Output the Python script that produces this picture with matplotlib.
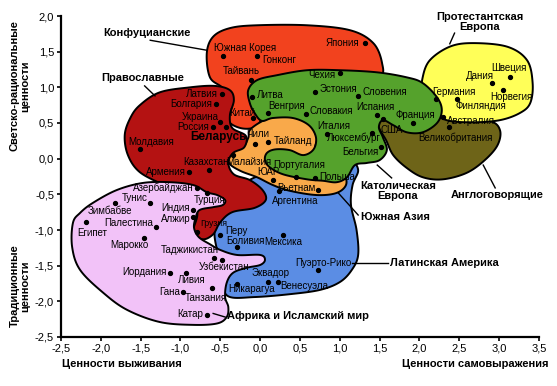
import numpy as np
import matplotlib
matplotlib.use("Agg")
import matplotlib.pyplot as plt

plt.rcParams['font.family'] = ['Liberation Sans', 'DejaVu Sans']

# Countries (x: survival -> self-expression, y: traditional -> secular-rational)
countries = ["Япония", "Южная Корея", "Гонконг", "Тайвань", "Китай",
             "Латвия", "Болгария", "Украина", "Россия", "Беларусь", "Молдавия",
             "Казахстан", "Армения", "Грузия",
             "Литва", "Венгрия", "Чехия", "Эстония", "Словения", "Словакия",
             "Испания", "Франция", "Италия", "Люксембург", "Бельгия",
             "США", "Австралия", "Великобритания",
             "Швеция", "Дания", "Норвегия", "Германия", "Финляндия",
             "Чили", "Тайланд", "Малайзия", "ЮАР", "Португалия", "Польша",
             "Вьетнам", "Аргентина",
             "Перу", "Боливия", "Мексика", "Пуэрто-Рико", "Эквадор",
             "Никарагуа", "Венесуэла",
             "Азербайджан", "Турция", "Тунис", "Зимбабве", "Египет",
             "Палестина", "Индия", "Алжир", "Марокко", "Таджикистан",
             "Узбекистан", "Иордания", "Ливия", "Гана", "Танзания", "Катар"]
x_vals = [1.31, -0.47, -0.04, -0.12, -0.09,
          -0.48, -0.56, -0.50, -0.59, -0.43, -1.51,
          -0.64, -0.89, -0.79,
          -0.10, 0.10, 1.00, 0.69, 1.23, 0.57,
          1.47, 1.92, 0.84, 1.40, 1.52,
          1.54, 2.29, 2.37,
          3.13, 2.91, 3.05, 2.21, 2.47,
          -0.07, 0.10, -0.34, 0.16, 0.45, 0.69,
          0.73, 0.24,
          -0.50, -0.29, 0.29, 0.73, 0.10,
          -0.29, 0.22,
          -0.79, -0.67, -1.38, -1.82, -2.19,
          -1.31, -0.84, -0.84, -1.46, -0.58,
          -0.48, -1.13, -0.93, -0.97, -0.61, -0.67]
y_vals = [1.62, 1.44, 1.44, 1.10, 0.57,
          0.91, 0.77, 0.51, 0.44, 0.44, 0.13,
          -0.16, -0.19, -1.03,
          0.86, 0.64, 1.20, 0.93, 0.88, 0.63,
          0.61, 0.50, 0.35, 0.36, 0.16,
          0.55, 0.58, 0.44,
          1.14, 1.06, 0.96, 0.84, 0.84,
          0.20, 0.23, 0.05, -0.30, -0.26, -0.27,
          -0.44, -0.45,
          -1.07, -1.24, -1.07, -1.56, -1.73,
          -1.75, -1.73,
          -0.41, -0.48, -0.62, -0.62, -0.89,
          -0.96, -0.72, -0.82, -1.11, -1.39,
          -1.42, -1.60, -1.60, -1.87, -1.81, -2.19]

# Cultural zone outlines (data units)
conf_x = [-0.67, -0.59, -0.38, -0.04, 0.59, 1.13, 1.42, 1.53, 1.50, 1.13, 0.37, 0.03, 0.02, -0.07, -0.25, -0.40, -0.35, -0.47, -0.63]
conf_y = [1.48, 1.71, 1.83, 1.87, 1.87, 1.80, 1.62, 1.34, 1.14, 1.00, 1.06, 0.86, 0.58, 0.44, 0.43, 0.54, 0.78, 0.99, 1.14]

orth_x = [-1.51, -1.26, -0.88, -0.57, -0.38, -0.33, -0.38, -0.35, -0.18, -0.20, -0.34, -0.40, -0.33, -0.13, 0.03, 0.07, -0.07, -0.35, -0.50, -0.59, -0.72, -0.84, -0.79, -0.94, -1.19, -1.51, -1.66, -1.70, -1.63]
orth_y = [0.75, 0.93, 1.00, 1.02, 0.96, 0.82, 0.61, 0.43, 0.32, 0.16, 0.08, -0.06, -0.22, -0.30, -0.44, -0.58, -0.69, -0.75, -0.89, -1.06, -1.13, -1.03, -0.75, -0.52, -0.38, -0.19, 0.05, 0.33, 0.57]

cath_x = [-0.15, -0.04, 0.21, 0.59, 1.00, 1.47, 1.84, 2.04, 2.22, 2.28, 2.22, 2.04, 1.84, 1.67, 1.54, 1.49, 1.54, 1.59, 1.50, 1.34, 1.19, 1.09, 0.96, 0.79, 0.59, 0.29, 0.12, 0.06, 0.085, 0.19, 0.37, 0.54, 0.67, 0.70, 0.61, 0.41, 0.16, 0.02, -0.07, -0.13]
cath_y = [0.96, 1.10, 1.17, 1.24, 1.24, 1.21, 1.14, 1.06, 0.86, 0.68, 0.50, 0.37, 0.37, 0.47, 0.54, 0.44, 0.30, 0.12, -0.02, -0.06, -0.09, -0.26, -0.33, -0.31, -0.29, -0.22, -0.12, -0.02, 0.08, 0.13, 0.12, 0.05, 0.13, 0.30, 0.47, 0.57, 0.57, 0.53, 0.64, 0.78]

sasia_x = [-0.13, 0.00, 0.16, 0.41, 0.61, 0.71, 0.70, 0.88, 1.04, 1.08, 0.96, 0.71, 0.37, 0.16, -0.04, -0.25, -0.39, -0.37, -0.22, -0.15]
sasia_y = [0.40, 0.51, 0.58, 0.58, 0.49, 0.30, 0.12, -0.05, -0.19, -0.36, -0.48, -0.51, -0.45, -0.37, -0.26, -0.17, -0.06, 0.09, 0.16, 0.29]

latam_x = [-0.57, -0.44, -0.19, 0.12, 0.50, 0.88, 1.13, 1.23, 1.16, 1.14, 1.21, 1.23, 1.15, 1.00, 0.75, 0.37, -0.07, -0.40, -0.48, -0.53]
latam_y = [-1.00, -0.65, -0.34, -0.19, -0.10, -0.05, -0.02, -0.16, -0.37, -0.65, -1.00, -1.35, -1.56, -1.73, -1.84, -1.90, -1.94, -1.93, -1.70, -1.35]

afr_x = [-2.10, -1.80, -1.47, -1.13, -0.84, -0.67, -0.54, -0.44, -0.47, -0.59, -0.76, -0.81, -0.83, -0.77, -0.63, -0.50, -0.29, 0.00, 0.06, 0.00, -0.17, -0.34, -0.42, -0.44, -0.40, -0.42, -0.54, -0.84, -1.26, -1.67, -1.97, -2.26, -2.36, -2.35, -2.26]
afr_y = [-0.62, -0.44, -0.34, -0.33, -0.37, -0.47, -0.51, -0.58, -0.65, -0.68, -0.72, -0.83, -0.97, -1.10, -1.20, -1.28, -1.35, -1.35, -1.42, -1.49, -1.53, -1.60, -1.74, -1.94, -2.08, -2.22, -2.31, -2.33, -2.29, -2.12, -1.88, -1.56, -1.24, -0.90, -0.76]

angl_x = [1.50, 2.00, 2.47, 2.88, 3.01, 2.98, 2.82, 2.59, 2.29, 2.04, 1.84, 1.67, 1.58, 1.49]
angl_y = [0.57, 0.60, 0.58, 0.53, 0.40, 0.19, -0.02, -0.20, -0.29, -0.26, -0.13, 0.05, 0.26, 0.44]

prot_x = [2.04, 2.13, 2.38, 2.67, 3.10, 3.35, 3.42, 3.39, 3.26, 3.01, 2.67, 2.34, 2.17, 2.04]
prot_y = [1.14, 1.38, 1.57, 1.62, 1.57, 1.38, 1.06, 0.78, 0.64, 0.54, 0.51, 0.54, 0.68, 0.92]

# zone label texts
zone_names = ["Конфуцианские", "Православные", "Протестантская\nЕвропа",
              "Католическая\nЕвропа", "Англоговорящие", "Южная Азия",
              "Латинская Америка", "Африка и Исламский мир"]


def smooth(xs, ys, n=14):
    # closed Catmull-Rom curve through the outline points
    p = np.column_stack([xs, ys])
    m = len(p)
    t = np.linspace(0, 1, n, endpoint=False)[:, None]
    segs = []
    for i in range(m):
        p0, p1, p2, p3 = p[i - 1], p[i], p[(i + 1) % m], p[(i + 2) % m]
        segs.append(0.5 * (2 * p1 + (-p0 + p2) * t
                           + (2 * p0 - 5 * p1 + 4 * p2 - p3) * t ** 2
                           + (-p0 + 3 * p1 - 3 * p2 + p3) * t ** 3))
    s = np.vstack(segs)
    return s[:, 0], s[:, 1]


fig = plt.figure(figsize=(5.57, 3.86), dpi=100)
ax = fig.add_axes([61 / 557, 1 - 337 / 386, 478 / 557, 321 / 386])

zones = [
    (conf_x, conf_y, "#f2421e", 1.0),
    (angl_x, angl_y, "#6e6418", 1.5),
    (prot_x, prot_y, "#ffff58", 2.0),
    (latam_x, latam_y, "#5b8de4", 2.5),
    (sasia_x, sasia_y, "#f9a94a", 3.0),
    (cath_x, cath_y, "#55a22c", 3.5),
    (orth_x, orth_y, "#b41212", 4.0),
    (afr_x, afr_y, "#f2c2f8", 4.5),
]
for zx, zy, col, z in zones:
    sx, sy = smooth(zx, zy)
    ax.fill(sx, sy, facecolor=col, edgecolor="black", lw=1.4, zorder=z)

ax.plot(x_vals, y_vals, "o", color="black", ms=2.8, zorder=10)

# label placement: (dx px, dy px, ha)
label_pos = {
    "Япония": (-5, 0, "right"), "Южная Корея": (-9, 8, "left"),
    "Гонконг": (5, -4, "left"), "Тайвань": (-9, 9, "center"),
    "Китай": (-11, 5, "center"), "Латвия": (-4, 0, "right"),
    "Болгария": (-3, 0, "right"), "Украина": (-2, 5, "right"),
    "Россия": (-4, 0, "right"), "Беларусь": (-7, -10, "center"),
    "Молдавия": (11, 7, "center"), "Казахстан": (-3, 8, "center"),
    "Армения": (-3, 0, "right"), "Грузия": (3, 9, "left"),
    "Литва": (5, 2, "left"), "Венгрия": (0, 7, "left"),
    "Чехия": (-4, -2, "right"), "Эстония": (4, 3, "left"),
    "Словения": (4, 4, "left"), "Словакия": (4, 3, "left"),
    "Испания": (-2, 8, "center"), "Франция": (2, 8, "center"),
    "Италия": (7, 8, "center"), "Люксембург": (-18, -5, "center"),
    "Бельгия": (-3, -5, "right"), "США": (9, -11, "center"),
    "Австралия": (4, -4, "left"), "Великобритания": (6, -10, "center"),
    "Швеция": (-1, 9, "center"), "Дания": (-12, 7, "center"),
    "Норвегия": (8, -7, "center"), "Германия": (18, 7, "center"),
    "Финляндия": (24, -7, "center"), "Чили": (3, 10, "center"),
    "Тайланд": (6, 1, "left"), "Малайзия": (16, -7, "center"),
    "ЮАР": (-5, 8, "center"), "Португалия": (3, 12, "center"),
    "Польша": (4, 1, "left"), "Вьетнам": (-3, 2, "right"),
    "Аргентина": (16, -10, "center"), "Перу": (5, 4, "left"),
    "Боливия": (8, 6, "center"), "Мексика": (0, -7, "center"),
    "Пуэрто-Рико": (5, 7, "center"), "Эквадор": (2, 9, "center"),
    "Никарагуа": (14, -5, "center"), "Венесуэла": (3, -4, "left"),
    "Азербайджан": (-3, 0, "right"), "Турция": (3, -7, "center"),
    "Тунис": (-15, 5, "center"), "Зимбабве": (-5, -8, "center"),
    "Египет": (7, -11, "center"), "Палестина": (-3, 4, "right"),
    "Индия": (-3, 2, "right"), "Алжир": (-3, -2, "right"),
    "Марокко": (-14, -7, "center"), "Таджикистан": (-24, 8, "center"),
    "Узбекистан": (2, -7, "center"), "Иордания": (-4, 1, "right"),
    "Ливия": (6, -7, "center"), "Гана": (-3, 0, "right"),
    "Танзания": (-6, -10, "center"), "Катар": (-4, 1, "right"),
}
for name, xv, yv in zip(countries, x_vals, y_vals):
    dx, dy, ha = label_pos[name]
    bold = name == "Беларусь"
    size = 8.5 if bold else 7.0
    if name == "Грузия":
        size = 6.3
    ax.annotate(name, (xv, yv), xytext=(dx, dy), textcoords="offset pixels",
                ha=ha, va="center", zorder=11, fontsize=size,
                fontweight="bold" if bold else "normal",
                family=["Liberation Sans Narrow", "Liberation Sans", "DejaVu Sans"])

# zone labels with leader lines: (text x, y, ha, line from, line to)
zone_layout = [
    (-1.42, 1.76, "center", (-1.38, 1.66), (-0.67, 1.52)),
    (-1.47, 1.13, "center", (-1.45, 1.02), (-1.32, 0.88)),
    (2.76, 1.92, "center", (2.44, 1.76), (2.38, 1.61)),
    (1.73, -0.45, "center", (1.47, -0.09), (1.65, -0.27)),
    (2.97, -0.51, "center", (2.80, -0.09), (2.95, -0.41)),
    (1.26, -0.82, "left", (0.98, -0.48), (1.23, -0.79)),
    (1.63, -1.46, "left", (1.15, -1.46), (1.60, -1.46)),
    (-0.42, -2.21, "left", (-0.59, -2.17), (-0.44, -2.22)),
]
for name, (tx, ty, ha, p0, p1) in zip(zone_names, zone_layout):
    ax.plot([p0[0], p1[0]], [p0[1], p1[1]], color="black", lw=1.0, zorder=6)
    ax.text(tx, ty, name, ha=ha, va="center", fontsize=8, fontweight="bold",
            linespacing=1.0, zorder=12)

ax.set_xlim(-2.5, 3.5)
ax.set_ylim(-2.5, 2.0)
xt = np.arange(-2.5, 3.51, 0.5)
yt = np.arange(-2.5, 2.01, 0.5)
ax.set_xticks(xt)
ax.set_yticks(yt)
ax.set_xticklabels([f"{v:.1f}".replace(".", ",").replace("-0,0", "0,0") for v in xt])
ax.set_yticklabels([f"{v:.1f}".replace(".", ",").replace("-0,0", "0,0") for v in yt])
ax.tick_params(labelsize=8, length=3, width=1.2, pad=2)
for s in ["top", "right"]:
    ax.spines[s].set_visible(False)
for s in ["left", "bottom"]:
    ax.spines[s].set_linewidth(1.6)
ax.set_facecolor("none")

fig.text(62 / 557, 1 - 364 / 386, "Ценности выживания", ha="left", va="center",
         fontsize=8, fontweight="bold")
fig.text(548 / 557, 1 - 364 / 386, "Ценности самовыражения", ha="right", va="center",
         fontsize=8, fontweight="bold")
fig.text(20 / 557, 1 - 86 / 386, "Светско-рациональные\nценности", rotation=90,
         ha="center", va="center", fontsize=8, fontweight="bold", linespacing=1.0)
fig.text(20 / 557, 1 - 286 / 386, "Традиционные\nценности", rotation=90,
         ha="center", va="center", fontsize=8, fontweight="bold", linespacing=1.0)

fig.savefig("out.png", dpi=100, facecolor="white")
